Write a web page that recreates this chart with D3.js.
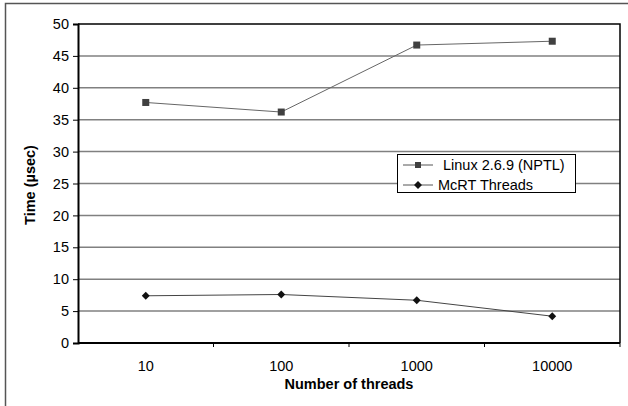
<!DOCTYPE html>
<html>
<head>
<meta charset="utf-8">
<script src="https://cdn.jsdelivr.net/npm/d3@7"></script>
<style>
  body { margin: 0; background: #fff; }
  svg { display: block; }
  svg text { font-family: "Liberation Sans", Arial, sans-serif; }
</style>
</head>
<body>
<div id="chart"></div>
<script>
const threads = ["10", "100", "1000", "10000"];
const linuxNptl = [37.7, 36.2, 46.7, 47.3];
const mcrtThreads = [7.4, 7.6, 6.7, 4.2];
const yTicks = [0, 5, 10, 15, 20, 25, 30, 35, 40, 45, 50];
const seriesNames = ["Linux 2.6.9 (NPTL)", "McRT Threads"];

const drawChart = () => {
  const width = 628;
  const height = 406;
  const margin = { top: 24, right: 8, bottom: 63, left: 78 };
  const font = "Liberation Sans, Arial, sans-serif";

  const svg = d3
    .select("#chart")
    .append("svg")
    .attr("width", width)
    .attr("height", height);

  // outer chart frame
  svg
    .append("rect")
    .attr("x", 5.5)
    .attr("y", 3.5)
    .attr("width", width + 10)
    .attr("height", height + 10)
    .attr("fill", "none")
    .attr("stroke", "#555")
    .attr("stroke-width", 1.5);

  const x = d3
    .scaleBand()
    .domain(threads)
    .range([margin.left, width - margin.right]);

  const y = d3
    .scaleLinear()
    .domain([0, 50])
    .range([height - margin.bottom, margin.top]);

  // gridlines
  svg
    .append("g")
    .selectAll("line")
    .data(yTicks.filter((d) => d > 0 && d < 50))
    .enter()
    .append("line")
    .attr("x1", margin.left)
    .attr("x2", width - margin.right)
    .attr("y1", (d) => y(d))
    .attr("y2", (d) => y(d))
    .attr("stroke", "#808080")
    .attr("stroke-width", 1.5);

  // plot frame top/right
  svg
    .append("path")
    .attr(
      "d",
      `M${margin.left},${margin.top}H${width - margin.right}V${height - margin.bottom}`
    )
    .attr("fill", "none")
    .attr("stroke", "#000")
    .attr("stroke-width", 1.5);

  // y axis
  const yAxis = svg
    .append("g")
    .attr("transform", `translate(${margin.left},0)`)
    .call(d3.axisLeft(y).tickValues(yTicks).tickSize(5).tickPadding(4));
  yAxis.attr("font-family", font);
  yAxis.select(".domain").attr("stroke-width", 2);
  yAxis
    .selectAll("text")
    .attr("font-size", 14.5)
    .attr("fill", "#000");

  // x axis: ticks at band boundaries, labels at band centres
  const xAxis = svg
    .append("g")
    .attr("transform", `translate(0,${height - margin.bottom})`);
  xAxis
    .append("line")
    .attr("x1", margin.left)
    .attr("x2", width - margin.right)
    .attr("stroke", "#000")
    .attr("stroke-width", 2);
  xAxis
    .selectAll(".tick-mark")
    .data(threads.slice(1).concat(["end"]))
    .enter()
    .append("line")
    .attr("x1", (d, i) => x(threads[0]) + (i + 1) * x.bandwidth())
    .attr("x2", (d, i) => x(threads[0]) + (i + 1) * x.bandwidth())
    .attr("y1", 0)
    .attr("y2", 4)
    .attr("stroke", "#000");
  xAxis
    .selectAll("text")
    .data(threads)
    .enter()
    .append("text")
    .attr("x", (d) => x(d) + x.bandwidth() / 2)
    .attr("y", 28)
    .attr("text-anchor", "middle")
    .attr("font-size", 14.5)
    .text((d) => d);

  // axis titles
  svg
    .append("text")
    .attr("x", (margin.left + width - margin.right) / 2)
    .attr("y", 389)
    .attr("text-anchor", "middle")
    .attr("font-size", 14.5)
    .attr("font-weight", "bold")
    .text("Number of threads");

  svg
    .append("text")
    .attr("transform", "translate(35,185) rotate(-90)")
    .attr("text-anchor", "middle")
    .attr("font-size", 14.5)
    .attr("font-weight", "bold")
    .text("Time (µsec)");

  const cx = (d, i) => x(threads[i]) + x.bandwidth() / 2;
  const line = d3
    .line()
    .x(cx)
    .y((d) => y(d));

  // Linux series
  svg
    .append("path")
    .attr("d", line(linuxNptl))
    .attr("fill", "none")
    .attr("stroke", "#666")
    .attr("stroke-width", 1);
  svg
    .append("g")
    .selectAll("rect")
    .data(linuxNptl)
    .enter()
    .append("rect")
    .attr("x", (d, i) => cx(d, i) - 3.5)
    .attr("y", (d) => y(d) - 3.5)
    .attr("width", 7)
    .attr("height", 7)
    .attr("fill", "#404040");

  // McRT series
  const diamond = d3.symbol().type(d3.symbolDiamond2).size(40);
  svg
    .append("path")
    .attr("d", line(mcrtThreads))
    .attr("fill", "none")
    .attr("stroke", "#444")
    .attr("stroke-width", 1);
  svg
    .append("g")
    .selectAll("path")
    .data(mcrtThreads)
    .enter()
    .append("path")
    .attr("d", diamond)
    .attr("transform", (d, i) => `translate(${cx(d, i)},${y(d)})`)
    .attr("fill", "#111");

  // legend
  const legend = svg.append("g").attr("transform", "translate(397,154)");
  legend
    .append("rect")
    .attr("x", 0.5)
    .attr("y", 0.5)
    .attr("width", 178)
    .attr("height", 38)
    .attr("fill", "#fff")
    .attr("stroke", "#000");

  const rows = legend
    .selectAll(".row")
    .data(seriesNames)
    .enter()
    .append("g")
    .attr("transform", (d, i) => `translate(0,${11 + i * 20})`);
  rows
    .append("line")
    .attr("x1", 6)
    .attr("x2", 36)
    .attr("stroke", "#555");
  rows
    .filter((d, i) => i === 0)
    .append("rect")
    .attr("x", 18)
    .attr("y", -3)
    .attr("width", 6)
    .attr("height", 6)
    .attr("fill", "#404040");
  rows
    .filter((d, i) => i === 1)
    .append("path")
    .attr("d", diamond)
    .attr("transform", "translate(21,0)")
    .attr("fill", "#111");
  rows
    .append("text")
    .attr("x", (d, i) => (i === 0 ? 46 : 41))
    .attr("y", 5)
    .attr("font-size", 14.5)
    .text((d) => d);
};

drawChart();
</script>
</body>
</html>
